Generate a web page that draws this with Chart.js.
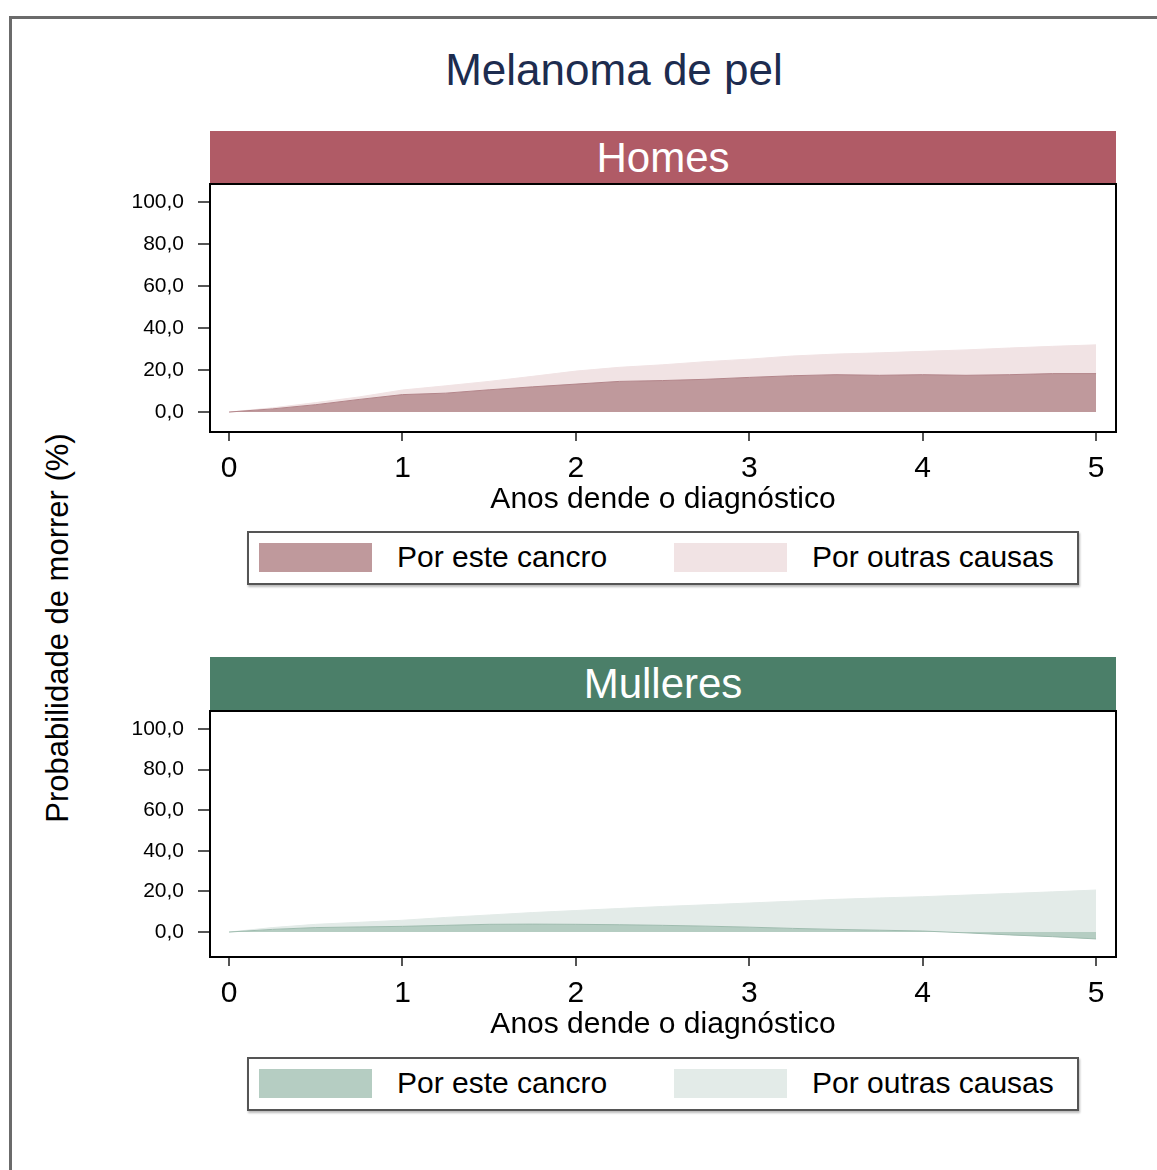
<!DOCTYPE html>
<html lang="gl">
<head>
<meta charset="UTF-8">
<title>Melanoma de pel</title>
<script src="https://cdn.jsdelivr.net/npm/chart.js"></script>
<style>
  body { margin: 0; background: #fff; font-family: Arial, "Liberation Sans", sans-serif; }
  #page { position: relative; width: 1157px; height: 1170px; overflow: hidden; }
  .frame { position: absolute; left: 9px; top: 16px; width: 1200px; height: 1200px; border: 3px solid #6b6b6b; }
  .title { position: absolute; left: 0; width: 1228px; top: 44px; text-align: center; font-size: 44px; line-height: 52px; color: #1d2c4f; }
  .strip { position: absolute; left: 210px; width: 906px; height: 53px; line-height: 53px; text-align: center; color: #fff; font-size: 42px; }
  .panel { position: absolute; left: 100px; }
  .legend { position: absolute; left: 247px; width: 828px; height: 50px; border: 2px solid #555; box-shadow: 1px 2px 2px #bbb; background: #fff; }
  .swatch { position: absolute; top: 10px; width: 113px; height: 29px; }
  .ltext { position: absolute; top: 6px; font-size: 30px; line-height: 36px; color: #000; }
  .ytitle { position: absolute; left: -242px; top: 610px; width: 600px; height: 36px; line-height: 36px; text-align: center;
            font-size: 31px; color: #000; transform: rotate(-90deg); }
</style>
</head>
<body>
<div id="page">
  <div class="frame"></div>
  <div class="title">Melanoma de pel</div>
  <div class="ytitle">Probabilidade de morrer (%)</div>

  <div class="strip" style="top:131px; background:#b05b66;">Homes</div>
  <canvas id="homesChart" class="panel" style="top:180px" width="1030" height="342"></canvas>
  <div class="legend" style="top:531px">
    <div class="swatch" style="left:10px; background:#bf999c;"></div>
    <div class="ltext" style="left:148px">Por este cancro</div>
    <div class="swatch" style="left:425px; background:#f1e3e4;"></div>
    <div class="ltext" style="left:563px">Por outras causas</div>
  </div>

  <div class="strip" style="top:657px; background:#4b7f69;">Mulleres</div>
  <canvas id="mulleresChart" class="panel" style="top:707px" width="1030" height="340"></canvas>
  <div class="legend" style="top:1057px">
    <div class="swatch" style="left:10px; background:#b5cdc2;"></div>
    <div class="ltext" style="left:148px">Por este cancro</div>
    <div class="swatch" style="left:425px; background:#e3ebe8;"></div>
    <div class="ltext" style="left:563px">Por outras causas</div>
  </div>
</div>

<script>
    const years = [0, 0.25, 0.5, 0.75, 1, 1.25, 1.5, 1.75, 2, 2.25, 2.5, 2.75, 3, 3.25, 3.5, 3.75, 4, 4.25, 4.5, 4.75, 5];

    // probabilidade de morrer (%)
    const homesCancro = [0, 1.5, 3.5, 6.0, 8.3, 9.0, 10.6, 12.0, 13.3, 14.6, 15.0, 15.6, 16.5, 17.3, 17.8, 17.5, 17.8, 17.5, 17.8, 18.3, 18.3];
    const homesOutras = [0, 0.5, 1.0, 1.2, 2.2, 3.5, 4.0, 5.0, 6.2, 6.7, 7.5, 8.4, 8.7, 9.4, 9.8, 10.7, 11.1, 12.1, 12.7, 13.0, 13.7];
    const mulleresCancro = [0, 1.3, 2.2, 2.5, 2.8, 3.3, 3.8, 3.9, 3.8, 3.6, 3.3, 2.9, 2.4, 1.8, 1.3, 0.9, 0.5, -0.4, -1.4, -2.3, -3.4];
    const mulleresOutras = [0, 0.9, 1.6, 2.3, 3.0, 3.9, 4.6, 5.7, 6.8, 8.0, 9.3, 10.5, 11.9, 13.4, 14.8, 15.9, 16.9, 18.6, 20.4, 22.1, 24.1];

    const xTicks = [0, 1, 2, 3, 4, 5];
    const yTicks = [0, 20, 40, 60, 80, 100];

    const boxPlugin = {
        id: 'box',
        afterDatasetsDraw(chart) {
            const a = chart.chartArea;
            const ctx = chart.ctx;
            ctx.save();
            ctx.strokeStyle = '#000';
            ctx.lineWidth = 2;
            ctx.strokeRect(a.left, a.top, a.right - a.left, a.bottom - a.top);
            ctx.restore();
        }
    };

    function makePanel(id, cancro, outras, cols, yMin, yMax) {
        const total = cancro.map((c, i) => c + outras[i]);
        const pts = arr => arr.map((v, i) => ({ x: years[i], y: v }));
        return new Chart(document.getElementById(id), {
            type: 'line',
            data: {
                datasets: [{
                    label: 'Por este cancro',
                    data: pts(cancro),
                    fill: 'origin',
                    backgroundColor: cols.cancro,
                    borderColor: cols.edge,
                    borderWidth: 1,
                    pointRadius: 0,
                    tension: 0
                }, {
                    label: 'Por outras causas',
                    data: pts(total),
                    fill: '-1',
                    backgroundColor: cols.outras,
                    borderColor: cols.outras,
                    borderWidth: 1,
                    pointRadius: 0,
                    tension: 0
                }]
            },
            options: {
                responsive: false,
                animation: false,
                layout: { padding: { top: 4, right: 14, left: 0, bottom: 0 } },
                plugins: { legend: { display: false }, tooltip: { enabled: false } },
                scales: {
                    x: {
                        type: 'linear',
                        min: -0.11,
                        max: 5.115,
                        afterBuildTicks: s => { s.ticks = xTicks.map(v => ({ value: v })); },
                        afterFit: s => { s.height = 90; s.paddingLeft = 0; s.paddingRight = 0; },
                        ticks: { font: { size: 30, family: 'Arial' }, color: '#000', padding: 10, maxRotation: 0, autoSkip: false },
                        grid: { drawOnChartArea: false, tickLength: 9, color: '#555', lineWidth: 2 },
                        border: { display: false },
                        title: { display: true, text: 'Anos dende o diagnóstico', font: { size: 30, family: 'Arial' }, color: '#000', padding: { top: 0, bottom: 4 } }
                    },
                    y: {
                        min: yMin,
                        max: yMax,
                        afterBuildTicks: s => { s.ticks = yTicks.map(v => ({ value: v })); },
                        afterFit: s => { s.width = 110; s.paddingTop = 0; s.paddingBottom = 0; },
                        ticks: { font: { size: 21, family: 'Arial' }, color: '#000', padding: 14,
                                 callback: v => v.toFixed(1).replace('.', ',') },
                        grid: { drawOnChartArea: false, tickLength: 12, color: '#555', lineWidth: 2 },
                        border: { display: false }
                    }
                }
            },
            plugins: [boxPlugin]
        });
    }

    makePanel('homesChart', homesCancro, homesOutras,
        { cancro: '#bf999c', edge: '#b3858a', outras: '#f1e3e4' }, -9.5, 108.6);
    makePanel('mulleresChart', mulleresCancro, mulleresOutras,
        { cancro: '#b5cdc2', edge: '#9fbcaf', outras: '#e3ebe8' }, -12.3, 108.9);
</script>
</body>
</html>
